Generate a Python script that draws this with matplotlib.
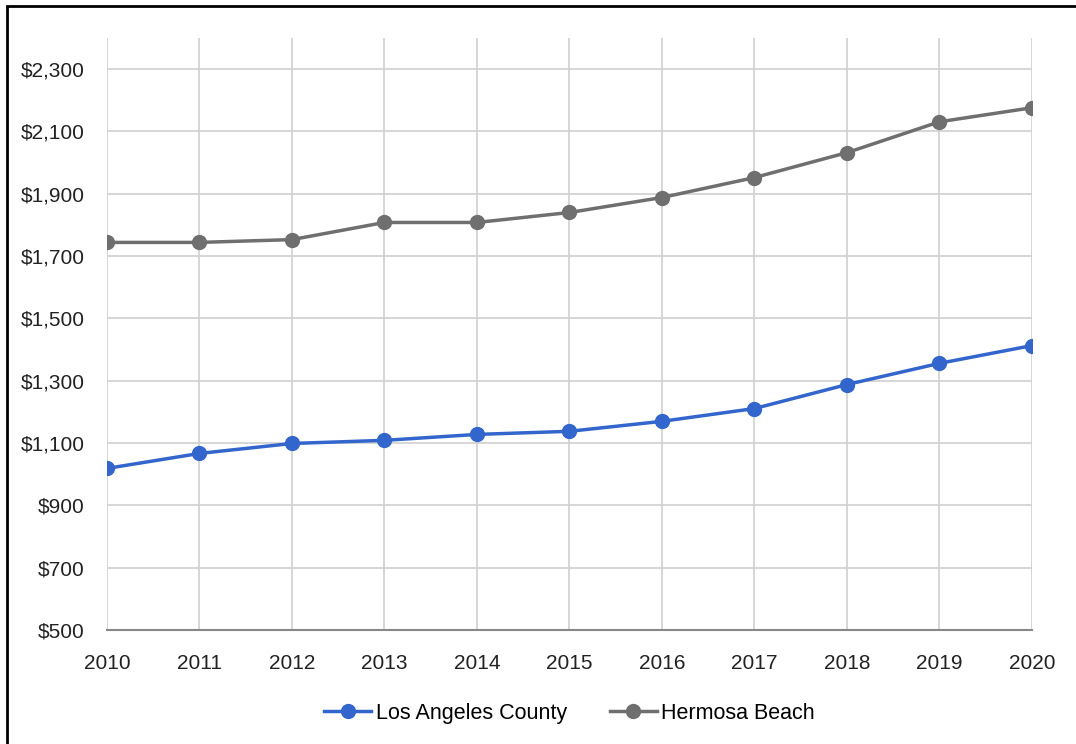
import matplotlib.pyplot as plt
from matplotlib.patches import Rectangle

years = [2010, 2011, 2012, 2013, 2014, 2015, 2016, 2017, 2018, 2019, 2020]
la_county = [1019, 1067, 1099, 1109, 1128, 1138, 1170, 1211, 1288, 1356, 1413]
hermosa = [1744, 1744, 1753, 1808, 1808, 1840, 1888, 1952, 2032, 2131, 2176]
yticks = [500, 700, 900, 1100, 1300, 1500, 1700, 1900, 2100, 2300]

plt.rcParams['font.family'] = ['Liberation Sans Narrow', 'Liberation Sans', 'DejaVu Sans']

fig = plt.figure(figsize=(10.76, 7.44), dpi=100)
ax = fig.add_axes([0.0994, 0.153, 0.8596, 0.796])

ax.plot(years, la_county, color='#3366cc', lw=2.5, marker='o', ms=10,
        label='Los Angeles County', zorder=3)
ax.plot(years, hermosa, color='#6f6f6f', lw=2.5, marker='o', ms=10,
        label='Hermosa Beach', zorder=3)

ax.set_xlim(2010, 2020)
ax.set_ylim(500, 2400)
ax.set_xticks(years)
ax.set_yticks(yticks)
ax.set_yticklabels(['${:,}'.format(v) for v in yticks])
ax.tick_params(length=0, labelsize=15, colors='#222222')
ax.tick_params(axis='x', pad=17)
ax.tick_params(axis='y', pad=16)
ax.grid(True, color='#d0d0d0', lw=1.2)
for s in ['top', 'right', 'left']:
    ax.spines[s].set_visible(False)
ax.spines['bottom'].set_color('#888888')
ax.spines['bottom'].set_linewidth(1.5)

ax.legend(loc='upper center', bbox_to_anchor=(0.5, -0.09), ncol=2, frameon=False,
          fontsize=15.5, handlelength=2.2, handletextpad=0.2, columnspacing=2.0)

fig.patches.append(Rectangle((7 / 1076, -0.01), 1.1, 1 - 6 / 744 + 0.01,
                             transform=fig.transFigure, fill=False,
                             edgecolor='black', lw=2))

fig.savefig('out.png', dpi=100)
